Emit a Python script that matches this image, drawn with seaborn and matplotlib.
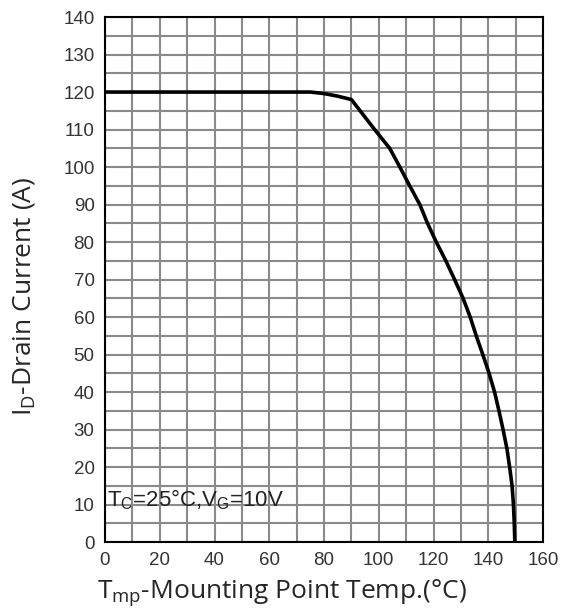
import numpy as np
import pandas as pd
import seaborn as sns
import matplotlib
matplotlib.use('Agg')
import matplotlib.pyplot as plt
from matplotlib.ticker import MultipleLocator

# derating curve
temp = [0, 75, 80, 85, 90, 98.5, 104, 107.7, 111.3, 115, 117.8, 121, 124.5,
        127.7, 130.8, 133.4, 135.6, 138, 140.3, 142.3, 143.9, 145.4, 146.8,
        147.8, 148.7, 149.2, 149.5, 149.7]
current = [120, 120, 119.6, 118.9, 118, 110, 105, 100, 95, 90, 85, 80, 75,
           70, 65, 60, 55, 50, 45, 40, 35, 30, 25, 20, 15, 10, 5, 0]
x_ticks = [0, 20, 40, 60, 80, 100, 120, 140, 160]
y_ticks = [0, 10, 20, 30, 40, 50, 60, 70, 80, 90, 100, 110, 120, 130, 140]

sns.set_style('white')
plt.rcParams['font.family'] = ['Liberation Sans', 'DejaVu Sans']
plt.rcParams['mathtext.fontset'] = 'custom'
plt.rcParams['mathtext.rm'] = 'Open Sans'
plt.rcParams['mathtext.sf'] = 'Liberation Sans'

df = pd.DataFrame({'temp': temp, 'current': current})

fig = plt.figure(figsize=(5.63, 6.09), dpi=100)
ax = fig.add_axes([0.1865, 0.110, 0.778, 0.862])

sns.lineplot(data=df, x='temp', y='current', sort=False, color='black',
             linewidth=2.6, ax=ax, zorder=3)
ax.set_xlabel('')
ax.set_ylabel('')

ax.set_xlim(0, 160)
ax.set_ylim(0, 140)
ax.xaxis.set_minor_locator(MultipleLocator(10))
ax.yaxis.set_minor_locator(MultipleLocator(5))
ax.set_xticks(x_ticks)
ax.set_yticks(y_ticks)
ax.grid(which='both', color='#8a8a8a', linewidth=1.5)
ax.set_axisbelow(True)

for s in ax.spines.values():
    s.set_color('black')
    s.set_linewidth(1.5)

ax.tick_params(which='both', direction='out', length=2.5, color='#333333',
               labelsize=13.5, labelcolor='#333333', pad=5)

lab_font = ['Open Sans', 'DejaVu Sans']
fig.text(0.501, 0.018, r'T$_\mathrm{mp}$-Mounting Point Temp.(°C)',
         fontsize=19, family=lab_font, ha='center', va='baseline')
fig.text(0.042, 0.514, r'I$_\mathrm{D}$-Drain Current (A)', fontsize=19,
         family=lab_font, ha='center', va='center', rotation=90)

ax.text(0.9, 9.6, r'T$_\mathsf{C}$=25°C,V$_\mathsf{G}$=10V', fontsize=16,
        color='#222222', va='baseline', ha='left', zorder=4)

fig.savefig('out.png', dpi=100, facecolor='white')
